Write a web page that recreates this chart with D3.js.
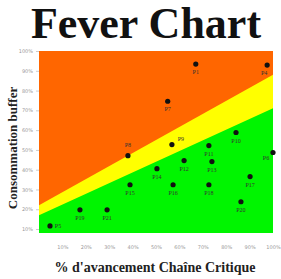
<!DOCTYPE html>
<html>
<head>
<meta charset="utf-8">
<script src="https://cdn.jsdelivr.net/npm/d3@7"></script>
<style>
  body { margin: 0; background: #fff; }
</style>
</head>
<body>
<div id="chart"></div>
<script>
// tasks : % avancement chaine critique vs % consommation buffer
const names = ["P1", "P4", "P7", "P8", "P9", "P10", "P11", "P6", "P12", "P13",
               "P14", "P17", "P15", "P16", "P18", "P20", "P19", "P21", "P5"];
const avancement = [67, 97.5, 55, 38, 56.8, 84.2, 72.6, 100, 62, 73.9,
                    50.4, 90.2, 38.9, 57.3, 72.6, 86.3, 17.5, 29.1, 4.7];
const buffer = [93.4, 92.9, 74.6, 47.1, 52.7, 58.8, 52.2, 48.7, 44.6, 44.1,
                40.5, 36.5, 32.4, 32.4, 32.4, 23.8, 19.7, 19.7, 11.6];

// zone limits at 0% and 100% of progress
const redLimit = [22, 88];
const greenLimit = [17, 71];

const xTicks = [10, 20, 30, 40, 50, 60, 70, 80, 90, 100];
const yTicks = [10, 20, 30, 40, 50, 60, 70, 80, 90, 100];

const svg = d3.select('#chart')
  .append('svg')
  .attr('width', 281)
  .attr('height', 279);

const margin = { top: 51, right: 8, bottom: 46, left: 39 },
      width = +svg.attr('width') - margin.left - margin.right,
      height = +svg.attr('height') - margin.top - margin.bottom;

const chart = svg.append('g')
  .attr('transform', `translate(${margin.left},${margin.top})`);

const x = d3.scaleLinear().domain([0, 100]).range([0, width]);
const y = d3.scaleLinear().domain([8, 100]).range([height, 0]);

const area = pts => d3.line().x(d => x(d[0])).y(d => y(d[1]))(pts) + "Z";
const [y0, y1] = y.domain();

// zones
chart.append("path")
  .attr("d", area([[0, y0], [0, y1], [100, y1], [100, y0]]))
  .attr("fill", "#ff6600");
chart.append("path")
  .attr("d", area([[0, y0], [0, redLimit[0]], [100, redLimit[1]], [100, y0]]))
  .attr("fill", "#ffff00");
chart.append("path")
  .attr("d", area([[0, y0], [0, greenLimit[0]], [100, greenLimit[1]], [100, y0]]))
  .attr("fill", "#00f500");

// axes
const xAxis = chart.append("g")
  .attr("transform", `translate(0,${height})`)
  .call(d3.axisBottom(x).tickValues(xTicks).tickSize(0).tickPadding(12).tickFormat(d => d + "%"));
const yAxis = chart.append("g")
  .call(d3.axisLeft(y).tickValues(yTicks).tickSize(3).tickPadding(3).tickFormat(d => d + "%"));

[xAxis, yAxis].forEach(a => {
  a.select(".domain").remove();
  a.selectAll("line").attr("stroke", "#ccc");
  a.selectAll("text")
    .style("font-family", "DejaVu Sans")
    .style("font-size", "5px")
    .style("fill", "#999");
});

// points
chart.selectAll("circle.pt")
  .data(names)
  .join("circle")
  .attr("class", "pt")
  .attr("cx", (d, i) => x(avancement[i]))
  .attr("cy", (d, i) => y(buffer[i]))
  .attr("r", 2.6)
  .attr("fill", "#111");

// label placement (default: under the point)
const labelOffset = {
  P8: [0, -9], P9: [9, -4], P6: [-7, 8], P5: [8, 2], P4: [-3, 10]
};

chart.selectAll("text.pt-label")
  .data(names)
  .join("text")
  .attr("class", "pt-label")
  .attr("x", (d, i) => x(avancement[i]) + (labelOffset[d] ? labelOffset[d][0] : 0))
  .attr("y", (d, i) => y(buffer[i]) + (labelOffset[d] ? labelOffset[d][1] : 10))
  .attr("text-anchor", "middle")
  .style("font-family", "Liberation Serif")
  .style("font-size", "6px")
  .style("fill", "#333")
  .text(d => d);

// titles
svg.append("text")
  .attr("x", 146)
  .attr("y", 38)
  .attr("text-anchor", "middle")
  .style("font-family", "Liberation Serif")
  .style("font-weight", "bold")
  .style("font-size", "44px")
  .style("fill", "#111")
  .text("Fever Chart");

svg.append("text")
  .attr("transform", "translate(17,148) rotate(-90)")
  .attr("text-anchor", "middle")
  .style("font-family", "Liberation Serif")
  .style("font-weight", "bold")
  .style("font-size", "13px")
  .style("fill", "#222")
  .text("Consommation buffer");

svg.append("text")
  .attr("x", 155)
  .attr("y", 272)
  .attr("text-anchor", "middle")
  .style("font-family", "Liberation Serif")
  .style("font-weight", "bold")
  .style("font-size", "14px")
  .style("fill", "#222")
  .text("% d'avancement Chaîne Critique");
</script>
</body>
</html>
